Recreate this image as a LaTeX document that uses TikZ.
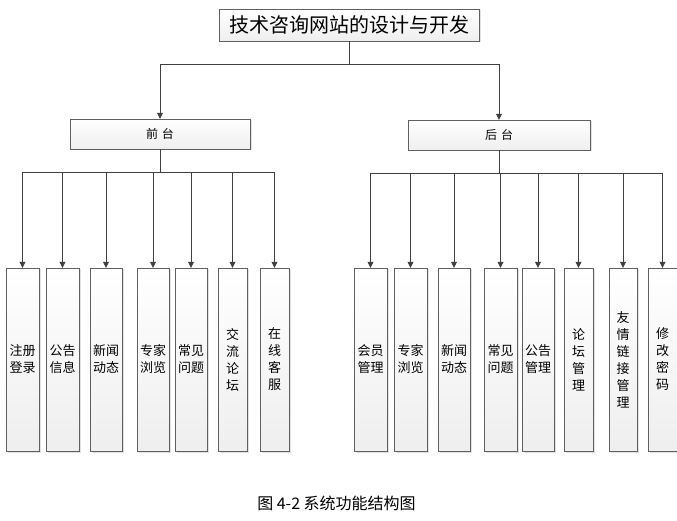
\documentclass[tikz,border=0pt]{standalone}
\usepackage{fontspec}
\setmainfont{Noto Sans CJK SC}
\usetikzlibrary{arrows.meta,shadows}

\tikzset{
  box/.style={draw=gray!75!black, top color=white, bottom color=gray!13,
    drop shadow={shadow xshift=1.5pt,shadow yshift=-1.5pt,fill=gray!45},
    inner sep=0pt},
  leaf/.style={box, minimum height=183pt, align=center,
    font=\fontsize{13}{17}\selectfont},
  link/.style={draw=black!75, line width=0.8pt},
  arr/.style={link, -{Triangle[length=6pt,width=6pt]}}
}

\begin{document}
\begin{tikzpicture}[x=1pt,y=-1pt]
\useasboundingbox (0,0) rectangle (677,521);
\node[box, minimum width=260pt, minimum height=32pt, font=\fontsize{20}{24}\selectfont] (root) at (349,25) {技术咨询网站的设计与开发};
\node[box, minimum width=180pt, minimum height=30pt, font=\fontsize{12}{14}\selectfont] (front) at (160,134) {前\hspace{4pt}台};
\node[box, minimum width=182pt, minimum height=30pt, font=\fontsize{12}{14}\selectfont] (back) at (499,135) {后\hspace{4pt}台};
\draw[arr] (root.south) -- ++(0,23) -| (front.north);
\draw[arr] (root.south) -- ++(0,23) -| (back.north);
% front leaves
\foreach \n/\x/\w/\t in {1/22.5/33/注册\\登录, 2/62.5/33/公告\\信息, 3/106/32/新闻\\动态,
    4/153/32/专家\\浏览, 5/191/32/常见\\问题, 6/232.5/29/交\\流\\论\\坛, 7/274.5/29/在\\线\\客\\服}
{
  \node[leaf, minimum width=\w pt] (f\n) at (\x,359.5) {\t};
  \draw[arr] (front.south) -- ++(0,23) -| (f\n.north);
}
% back leaves
\foreach \n/\x/\w/\t in {1/370.5/33/会员\\管理, 2/410.5/33/专家\\浏览, 3/454/32/新闻\\动态,
    4/500.5/33/常见\\问题, 5/538/32/公告\\管理, 6/578.5/29/论\\坛\\管\\理,
    7/623/28/友\\情\\链\\接\\管\\理, 8/662.5/29/修\\改\\密\\码}
{
  \node[leaf, minimum width=\w pt] (b\n) at (\x,359.5) {\t};
  \draw[arr] (back.south) -- ++(0,23) -| (b\n.north);
}
\node[font=\fontsize{16}{18}\selectfont] (cap) at (336.5,503) {图 4-2 系统功能结构图};
\end{tikzpicture}
\end{document}
